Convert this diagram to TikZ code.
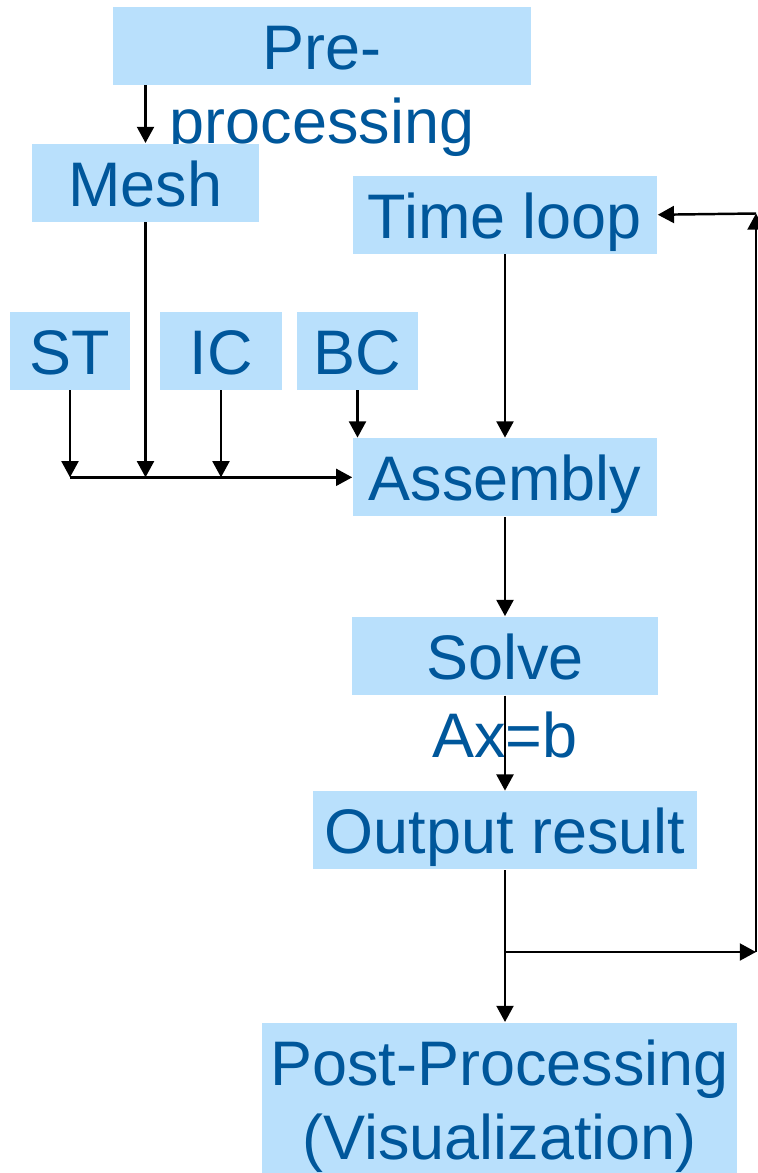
\documentclass[tikz,border=0pt]{standalone}
\usepackage{fontspec}
\setmainfont{Liberation Sans}
\usetikzlibrary{arrows.meta,positioning}
\definecolor{boxblue}{RGB}{185,224,252}
\definecolor{txtblue}{RGB}{0,87,155}

\begin{document}
\begin{tikzpicture}[
  x=0.01cm, y=-0.01cm,
  font=\fontsize{17.9}{21}\selectfont, text=txtblue,
  box/.style={fill=boxblue, align=center, inner xsep=0pt, inner ysep=0pt, text height=17.8pt, text depth=4.4pt, anchor=north},
  twoline/.style={align=center, inner sep=0pt, anchor=north, text height=38.8pt},
  pf/.style={-{Triangle[length=4.6pt,width=4.8pt]}, line width=0.7pt}
]
\useasboundingbox (0,0) rectangle (757,1173);
\node[box, minimum width=4.18cm] (pre) at (322,6) {};
\node[twoline] (pretxt) at (pre.north) {Pre-\\processing};
\node[box, minimum width=2.27cm] (mesh) at (145.5,143) {Mesh};
\node[box, minimum width=3.04cm] (time) at (505,175) {Time loop};
\node[box, minimum width=1.20cm] (st) at (70,311) {ST};
\node[box, minimum width=1.22cm] (ic) at (221,311) {IC};
\node[box, minimum width=1.21cm] (bc) at (357.5,311) {BC};
\node[box, minimum width=3.04cm, below=1.83cm of time] (asm) {Assembly};
\node[box, minimum width=3.05cm, below=0.99cm of asm] (solve) {Solve};
\node[box, minimum width=3.83cm, below=0.95cm of solve] (out) {Output result};
\node[box, minimum width=4.75cm, minimum height=1.7cm] (post) at (499.5,1022) {};
\node[twoline] (posttxt) at (post.north) {Post-Processing\\(Visualization)};
\node[anchor=base] (axb) at (505,757) {Ax=b};
\coordinate (br) at (505,952);
\coordinate (rt) at (756,213.5);
% pre-processing inputs
\draw[pf] (pre.south -| mesh.north) -- (mesh.north);
\draw[pf] (mesh.south) -- (mesh.south |- asm.west);
\draw[pf] (st.south) -- (st.south |- asm.west);
\draw[pf] (ic.south) -- (ic.south |- asm.west);
\draw[pf] (st.south |- asm.west) -- (asm.west);
\draw[pf] (bc.south) -- (bc.south |- asm.north);
% time loop
\draw[pf] (time.south) -- (asm.north);
\draw[pf] (asm) -- (solve);
\draw[pf] (solve) -- (out);
\draw[pf] (out.south) -- (out.south |- post.north);
\draw[pf] (br) -- (br -| rt);
\draw[pf] (br -| rt) -- (rt);
\draw[pf] (rt) -- (time.east);
\end{tikzpicture}
\end{document}
